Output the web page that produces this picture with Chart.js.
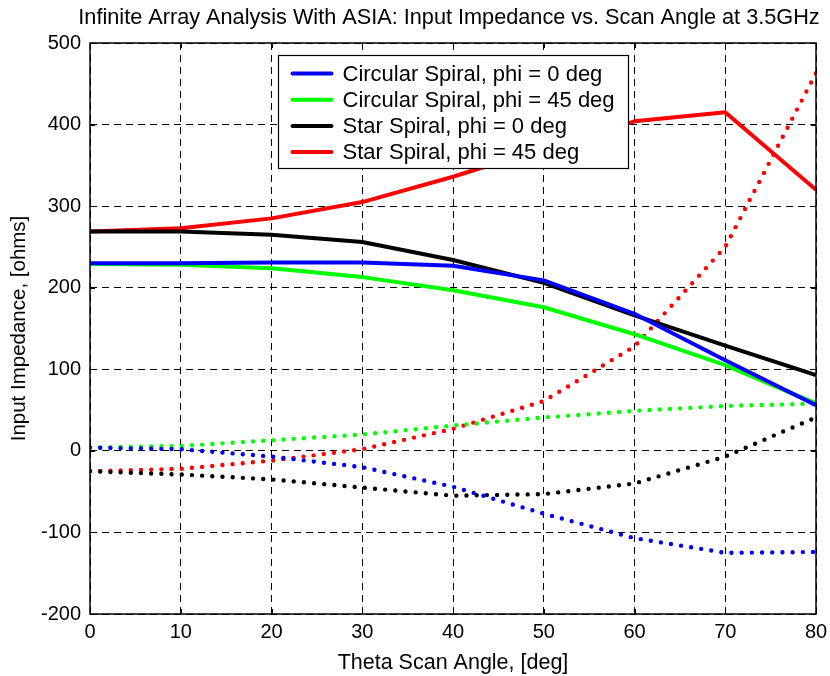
<!DOCTYPE html>
<html>
<head>
<meta charset="utf-8">
<script src="https://cdn.jsdelivr.net/npm/chart.js@4.4.1/dist/chart.umd.min.js"></script>
<style>
html,body{margin:0;padding:0;background:#fff;}
#wrap{width:830px;height:676px;position:relative;}
</style>
</head>
<body>
<div id="wrap"><canvas id="c" width="830" height="676"></canvas></div>
<script>
const titleText = 'Infinite Array Analysis With ASIA: Input Impedance vs. Scan Angle at 3.5GHz';
const xTitle = 'Theta Scan Angle, [deg]';
const yTitle = 'Input Impedance, [ohms]';
const angles = [0, 10, 20, 30, 40, 50, 60, 70, 80];
const xTicks = [0, 10, 20, 30, 40, 50, 60, 70, 80];
const yTicks = [-200, -100, 0, 100, 200, 300, 400, 500];
const seriesNames = ['Circular Spiral, phi = 0 deg', 'Circular Spiral, phi = 45 deg', 'Star Spiral, phi = 0 deg', 'Star Spiral, phi = 45 deg'];
const seriesColors = ['#0000ff', '#00ff00', '#000000', '#ff0000'];
// resistance (solid)
const circ0Re  = [230, 230, 231, 231, 227, 209, 168, 111, 56];
const circ45Re = [229, 228, 224, 213, 197, 176, 143, 105, 58];
const star0Re  = [269, 269, 265, 256, 234, 206, 166, 129, 93];
const star45Re = [269, 273, 285, 305, 336, 371, 404, 415, 320];
// reactance (dotted)
const circ0Im  = [4, 2, -7, -20, -44, -77, -107, -125, -124];
const circ45Im = [4, 6, 13, 20, 31, 41, 49, 55, 58];
const star0Im  = [-25, -29, -35, -45, -55, -53, -40, -7, 41];
const star45Im = [-25, -22, -12, 2, 27, 61, 128, 250, 463];

const reSeries = [circ0Re, circ45Re, star0Re, star45Re];
const imSeries = [circ0Im, circ45Im, star0Im, star45Im];
const pts = arr => angles.map((a, i) => ({x: a, y: arr[i]}));

const FONT = '"Liberation Sans", Arial, Helvetica, sans-serif';

const datasets = [];
reSeries.forEach((s, i) => datasets.push({
  label: seriesNames[i], data: pts(s), borderColor: seriesColors[i], backgroundColor: seriesColors[i],
  borderWidth: 4, pointRadius: 0, tension: 0, fill: false, borderJoinStyle: 'round'
}));
imSeries.forEach((s, i) => datasets.push({
  label: seriesNames[i] + ' (imag)', data: pts(s), borderColor: seriesColors[i], backgroundColor: seriesColors[i],
  borderWidth: 4.4, pointRadius: 0, tension: 0, fill: false, borderDash: [0, 10.2], borderCapStyle: 'round'
}));

const framePlugin = {
  id: 'frame',
  beforeDatasetsDraw(chart) {
    const {ctx, chartArea: a, scales} = chart;
    ctx.save();
    ctx.strokeStyle = '#000';
    ctx.lineWidth = 1;
    ctx.beginPath();
    const L = 5;
    xTicks.forEach(v => {
      const px = Math.round(scales.x.getPixelForValue(v)) + 0.5;
      ctx.moveTo(px, a.bottom); ctx.lineTo(px, a.bottom - L);
      ctx.moveTo(px, a.top); ctx.lineTo(px, a.top + L);
    });
    yTicks.forEach(v => {
      const py = Math.round(scales.y.getPixelForValue(v)) + 0.5;
      ctx.moveTo(a.left, py); ctx.lineTo(a.left + L, py);
      ctx.moveTo(a.right, py); ctx.lineTo(a.right - L, py);
    });
    ctx.stroke();
    ctx.restore();
  },
  afterDatasetsDraw(chart) {
    const {ctx, chartArea: a} = chart;
    ctx.save();
    ctx.strokeStyle = '#000';
    ctx.lineWidth = 1.5;
    ctx.strokeRect(a.left, a.top, a.right - a.left, a.bottom - a.top);
    // legend box
    const w = 350, h = 113;
    const cx = (a.left + a.right) / 2;
    const bx = Math.round(cx - w / 2) + 0.5, by = Math.round(a.top + 12) + 0.5;
    ctx.fillStyle = '#fff';
    ctx.fillRect(bx, by, w, h);
    ctx.lineWidth = 1.2;
    ctx.strokeRect(bx, by, w, h);
    ctx.font = '22px ' + FONT;
    ctx.textBaseline = 'middle';
    ctx.textAlign = 'left';
    seriesNames.forEach((n, i) => {
      const y = by + 18 + i * 26.2;
      ctx.strokeStyle = seriesColors[i];
      ctx.lineWidth = 4;
      ctx.lineCap = 'round';
      ctx.beginPath();
      ctx.moveTo(bx + 14, y); ctx.lineTo(bx + 53, y);
      ctx.stroke();
      ctx.fillStyle = '#000';
      ctx.fillText(n, bx + 64, y + 1);
    });
    ctx.restore();
  },
  afterDraw(chart) {
    const {ctx, chartArea: a} = chart;
    ctx.save();
    ctx.fillStyle = '#000';
    ctx.font = '21.7px ' + FONT;
    ctx.textAlign = 'center';
    ctx.textBaseline = 'alphabetic';
    ctx.fillText(titleText, (a.left + a.right) / 2 - 4, 24);
    ctx.restore();
  }
};

new Chart(document.getElementById('c'), {
  type: 'line',
  data: {datasets},
  options: {
    responsive: false,
    animation: false,
    devicePixelRatio: 1,
    layout: {padding: {top: 43, right: 14, left: 0, bottom: 0}},
    plugins: {legend: {display: false}, title: {display: false}, tooltip: {enabled: false}},
    scales: {
      x: {
        type: 'linear', min: 0, max: 80,
        afterBuildTicks: s => { s.ticks = xTicks.map(v => ({value: v})); },
        afterFit: s => { s.height = 62; s.paddingRight = 0; s.paddingLeft = 0; },
        ticks: {color: '#000', font: {family: FONT, size: 20}, padding: 6, maxRotation: 0},
        grid: {color: '#000', lineWidth: 1, drawTicks: false},
        border: {display: false, dash: [7, 5]},
        title: {display: true, text: xTitle, color: '#000', font: {family: FONT, size: 21.5}, padding: {top: 2, bottom: 0}}
      },
      y: {
        type: 'linear', min: -200, max: 500,
        afterBuildTicks: s => { s.ticks = yTicks.map(v => ({value: v})); },
        afterFit: s => { s.width = 90; },
        ticks: {color: '#000', font: {family: FONT, size: 20}, padding: 9},
        grid: {color: '#000', lineWidth: 1, drawTicks: false},
        border: {display: false, dash: [7, 5]},
        title: {display: true, text: yTitle, color: '#000', font: {family: FONT, size: 20.5}, padding: {top: 7, bottom: 4}}
      }
    }
  },
  plugins: [framePlugin]
});
</script>
</body>
</html>
